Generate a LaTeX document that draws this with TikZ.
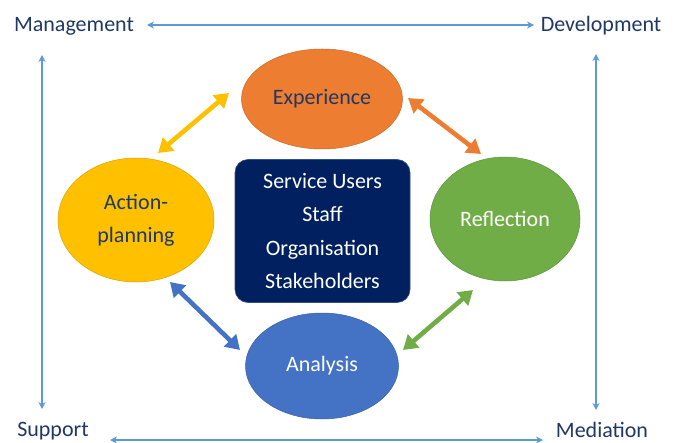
\documentclass[tikz,border=0pt]{standalone}
\usepackage{fontspec}
\setmainfont{Carlito}
\usetikzlibrary{shapes.geometric,arrows.meta}
\definecolor{corange}{HTML}{ED7D31}
\definecolor{cgreen}{HTML}{70AD47}
\definecolor{cyellow}{HTML}{FFC000}
\definecolor{cblue}{HTML}{4472C4}
\definecolor{cnavy}{HTML}{002060}
\definecolor{ctext}{HTML}{1F3864}
\definecolor{cthin}{HTML}{5B9BD5}
\tikzset{
  stage/.style={ellipse, inner sep=0pt, font=\fontsize{22}{33}\selectfont, align=center},
  corner/.style={inner sep=0pt, text=ctext, font=\fontsize{22}{26}\selectfont},
  thinarrow/.style={draw=cthin, line width=1.7pt, {Stealth[length=7pt,width=7pt]}-{Stealth[length=7pt,width=7pt]}},
  fatarrow/.style={line width=4.6pt, {Triangle[length=14pt,width=17pt]}-{Triangle[length=14pt,width=17pt]}, shorten <=0pt, shorten >=0pt},
}
\begin{document}
\begin{tikzpicture}[x=1pt,y=-1pt]
\useasboundingbox (0,0) rectangle (676,443);
% corner labels
\node[corner] (man) at (74,26) {Management};
\node[corner] (dev) at (601,26) {Development};
\node[corner] (sup) at (53,431) {Support};
\node[corner] (med) at (602,430) {Mediation};
% thin arrow endpoints
\coordinate (tl) at (147,25);
\coordinate (tr) at (534,25);
\coordinate (bl) at (110,440);
\coordinate (br) at (543,440);
\coordinate (lt) at (42,55);
\coordinate (lb) at (42,409);
\coordinate (rt) at (596,54);
\coordinate (rb) at (596,410);
\draw[thinarrow] (tl) -- (tr);
\draw[thinarrow] (bl) -- (br);
\draw[thinarrow] (lt) -- (lb);
\draw[thinarrow] (rt) -- (rb);
% centre box
\node[fill=cnavy, draw=cnavy!80!white, line width=0.6pt, rounded corners=13pt, minimum width=175pt, minimum height=143pt, text=white, align=center, inner sep=0pt, font=\fontsize{22}{33.5}\selectfont] (core) at (322.5,231) {Service Users\\Staff\\Organisation\\Stakeholders};
% stages
\node[stage, fill=corange, draw=corange!85!black, line width=0.5pt, minimum width=161pt, minimum height=100pt, text=ctext] (exp) at (322,99) {Experience};
\node[stage, fill=cgreen, draw=cgreen!85!black, line width=0.5pt, minimum width=150pt, minimum height=124pt, text=white] (ref) at (505,219) {Reflection};
\node[stage, fill=cyellow, draw=cyellow!85!black, line width=0.5pt, minimum width=156pt, minimum height=124pt, text=ctext] (act) at (136,220) {Action-\\planning};
\node[stage, fill=cblue, draw=cblue!85!black, line width=0.5pt, minimum width=153pt, minimum height=106pt, text=white] (ana) at (322,366) {Analysis};
% fat arrow endpoints
\coordinate (y1) at (158,153);
\coordinate (y2) at (229,93);
\coordinate (o1) at (408,98);
\coordinate (o2) at (481,154);
\coordinate (g1) at (473,290);
\coordinate (g2) at (403,350);
\coordinate (b1) at (170,282);
\coordinate (b2) at (240,350);
\draw[fatarrow, draw=cyellow, fill=cyellow] (y1) -- (y2);
\draw[fatarrow, draw=corange, fill=corange] (o1) -- (o2);
\draw[fatarrow, draw=cgreen, fill=cgreen] (g1) -- (g2);
\draw[fatarrow, draw=cblue, fill=cblue] (b1) -- (b2);
\end{tikzpicture}
\end{document}
